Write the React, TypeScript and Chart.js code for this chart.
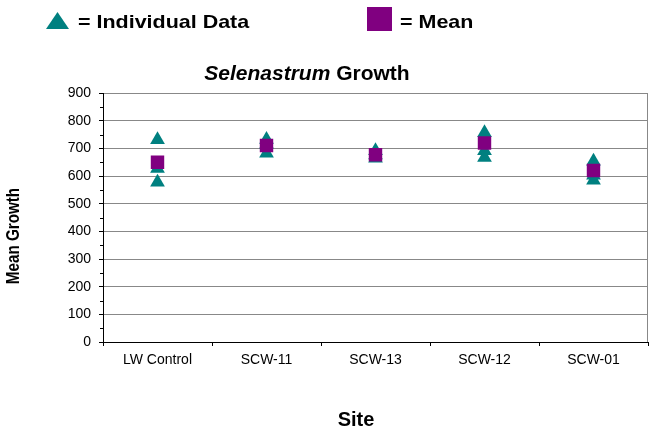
import React, { useEffect, useRef } from "react";
import { Chart, registerables } from "chart.js";

Chart.register(...registerables);

const sites = ["LW Control", "SCW-11", "SCW-13", "SCW-12", "SCW-01"];
const replicate1 = [731, 732, 691, 756, 653];
const replicate2 = [627, 715, 676, 691, 603];
const replicate3 = [577, 682, 664, 667, 585];
const meanGrowth = [650, 710, 677, 719, 620];
const yTicks = [0, 100, 200, 300, 400, 500, 600, 700, 800, 900];

const TEAL = "#008080";
const PURPLE = "#800080";
const FONT = "'Liberation Sans', Arial, Helvetica, sans-serif";

const decorPlugin = {
  id: "decor",
  afterDraw(chart: any) {
    const ctx = chart.ctx;
    const area = chart.chartArea;
    const y = chart.scales.y;
    ctx.save();
    // minor ticks
    ctx.strokeStyle = "#000";
    ctx.lineWidth = 1;
    for (let i = 0; i < yTicks.length - 1; i++) {
      const v = (yTicks[i] + yTicks[i + 1]) / 2;
      const py = Math.round(y.getPixelForValue(v)) + 0.5;
      ctx.beginPath();
      ctx.moveTo(area.left - 3, py);
      ctx.lineTo(area.left, py);
      ctx.stroke();
    }
    // right border
    ctx.strokeStyle = "#888";
    ctx.beginPath();
    ctx.moveTo(Math.round(area.right) - 0.5, area.top);
    ctx.lineTo(Math.round(area.right) - 0.5, area.bottom);
    ctx.stroke();

    // legend
    ctx.fillStyle = TEAL;
    ctx.beginPath();
    ctx.moveTo(57.5, 12);
    ctx.lineTo(69, 29);
    ctx.lineTo(46, 29);
    ctx.closePath();
    ctx.fill();
    ctx.fillStyle = PURPLE;
    ctx.fillRect(367, 7, 25, 24);
    ctx.fillStyle = "#000";
    ctx.textBaseline = "alphabetic";
    ctx.textAlign = "left";
    ctx.font = `bold 19px ${FONT}`;
    ctx.save();
    ctx.translate(78, 28);
    ctx.scale(1.13, 1);
    ctx.fillText("= Individual Data", 0, 0);
    ctx.restore();
    ctx.save();
    ctx.translate(400, 28);
    ctx.scale(1.13, 1);
    ctx.fillText("= Mean", 0, 0);
    ctx.restore();

    // title
    ctx.font = `italic bold 21px ${FONT}`;
    const t1 = "Selenastrum";
    const w1 = ctx.measureText(t1).width;
    ctx.font = `bold 21px ${FONT}`;
    const t2 = " Growth";
    const w2 = ctx.measureText(t2).width;
    const cx = 307;
    const startX = cx - (w1 + w2) / 2;
    ctx.font = `italic bold 21px ${FONT}`;
    ctx.fillText(t1, startX, 80);
    ctx.font = `bold 21px ${FONT}`;
    ctx.fillText(t2, startX + w1, 80);

    // axis titles
    ctx.textAlign = "center";
    ctx.textBaseline = "middle";
    ctx.font = `bold 20px ${FONT}`;
    ctx.fillText("Site", 356, 420);
    ctx.font = `bold 16px ${FONT}`;
    ctx.save();
    ctx.translate(14, 236);
    ctx.rotate(-Math.PI / 2);
    ctx.scale(0.95, 1.2);
    ctx.fillText("Mean Growth", 0, 0);
    ctx.restore();
    ctx.restore();
  },
};

export default function App() {
  const ref = useRef<HTMLCanvasElement | null>(null);
  useEffect(() => {
    document.body.style.margin = "0";
    const canvas = ref.current;
    if (!canvas) return;
    const mk = (data: number[]) => sites.map((s, i) => ({ x: s, y: data[i] }));
    const tri = (label: string, data: number[]) => ({
      label,
      data: mk(data),
      showLine: false,
      pointStyle: "triangle",
      pointRadius: 8.5,
      pointHoverRadius: 8.5,
      backgroundColor: TEAL,
      borderColor: TEAL,
      pointBorderWidth: 0,
    });
    const chart = new Chart(canvas, {
      type: "line",
      data: {
        labels: sites,
        datasets: [
          {
            label: "Mean",
            data: mk(meanGrowth),
            showLine: false,
            pointStyle: "rect",
            pointRadius: 9.5,
            pointHoverRadius: 9.5,
            backgroundColor: PURPLE,
            borderColor: PURPLE,
            pointBorderWidth: 0,
          } as any,
          tri("Individual 1", replicate1),
          tri("Individual 2", replicate2),
          tri("Individual 3", replicate3),
        ],
      },
      options: {
        responsive: false,
        animation: false,
        layout: { autoPadding: false, padding: { top: 93, right: 6, left: 0, bottom: 0 } },
        plugins: { legend: { display: false }, title: { display: false }, tooltip: { enabled: false } },
        scales: {
          x: {
            type: "category",
            offset: true,
            grid: {
              offset: true,
              drawOnChartArea: false,
              drawTicks: true,
              tickLength: 4,
              tickColor: "#000",
              color: "#000",
            },
            border: { display: true, color: "#000", width: 1 },
            ticks: { color: "#000", font: { family: FONT, size: 14 }, padding: 6, maxRotation: 0 },
            afterFit: (s: any) => {
              s.height = 93;
              s.paddingLeft = 0;
              s.paddingRight = 0;
            },
          },
          y: {
            min: 0,
            max: 900,
            ticks: { stepSize: 100, color: "#000", font: { family: FONT, size: 14 }, padding: 8 },
            grid: { color: "#888", tickColor: "#000", tickLength: 4, drawTicks: true },
            border: { display: true, color: "#000", width: 1 },
            afterFit: (s: any) => {
              s.width = 103;
            },
          },
        },
      },
      plugins: [decorPlugin],
    });
    return () => chart.destroy();
  }, []);
  return (
    <div style={{ width: 654, height: 435 }}>
      <canvas ref={ref} width={654} height={435} style={{ display: "block" }} />
    </div>
  );
}
